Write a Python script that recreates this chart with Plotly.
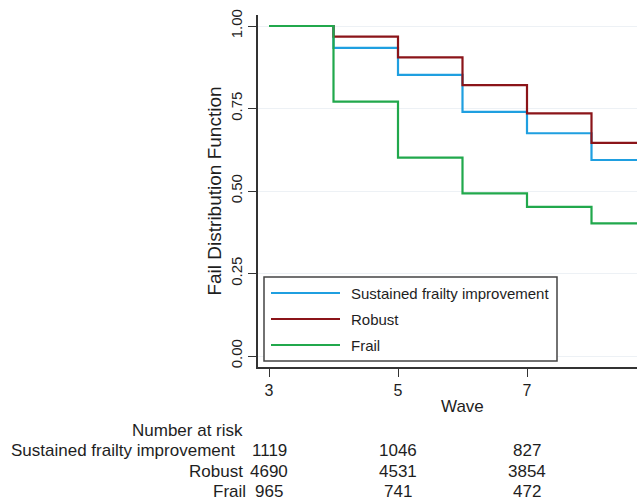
import plotly.graph_objects as go

# ---- data ----
waves = [3, 4, 5, 6, 7, 8, 9]
sustained = [1.0, 0.934, 0.852, 0.740, 0.675, 0.594, 0.594]
robust = [1.0, 0.968, 0.905, 0.821, 0.735, 0.646, 0.646]
frail = [1.0, 0.771, 0.601, 0.493, 0.452, 0.402, 0.402]
series_names = ["Sustained frailty improvement", "Robust", "Frail"]
colors = ["#1f9fe0", "#8b1419", "#21a84c"]

risk_waves = [3, 5, 7]
risk_sustained = [1119, 1046, 827]
risk_robust = [4690, 4531, 3854]
risk_frail = [965, 741, 472]

y_ticks = [0.0, 0.25, 0.5, 0.75, 1.0]
y_ticktext = ["0.00", "0.25", "0.50", "0.75", "1.00"]
x_ticks = [3, 5, 7]

# ---- layout geometry (pixels) ----
W, H = 637, 503
L, R, T, B = 258, 637, 15, 367
FONT = "Liberation Sans, Arial, sans-serif"
TXT = "#1e1e1e"
AX = "#333333"


def pxx(px):
    return (px - L) / (R - L)


def pxy(py):
    return (B - py) / (B - T)


fig = go.Figure()
for name, ys, col in zip(series_names, [sustained, robust, frail], colors):
    fig.add_trace(go.Scatter(x=waves, y=ys, mode="lines", name=name,
                             line=dict(color=col, width=2.2, shape="hv"),
                             showlegend=False, hoverinfo="skip"))

# custom legend box
shapes = [dict(type="rect", xref="paper", yref="paper",
               x0=pxx(264), x1=pxx(557), y0=pxy(361), y1=pxy(277),
               line=dict(color="#444444", width=1.5), fillcolor="white", layer="above")]
annotations = []
for i, (name, col) in enumerate(zip(series_names, colors)):
    yy = 293 + i * 26
    shapes.append(dict(type="line", xref="paper", yref="paper",
                       x0=pxx(271), x1=pxx(340), y0=pxy(yy), y1=pxy(yy),
                       line=dict(color=col, width=2.2), layer="above"))
    annotations.append(dict(xref="paper", yref="paper", x=pxx(349), y=pxy(yy),
                            text=name, showarrow=False, xanchor="left", yanchor="middle",
                            font=dict(family=FONT, size=15, color=TXT)))

# x-axis title
annotations.append(dict(xref="paper", yref="paper", x=pxx(462), y=pxy(406),
                        text="Wave", showarrow=False, xanchor="center", yanchor="middle",
                        font=dict(family=FONT, size=17, color=TXT)))

# number at risk table
annotations.append(dict(xref="paper", yref="paper", x=pxx(187.5), y=pxy(430),
                        text="Number at risk", showarrow=False, xanchor="center", yanchor="middle",
                        font=dict(family=FONT, size=17, color=TXT)))
row_y = [450, 471, 491]
row_label_right = [237, 245, 248]
for name, counts, yy, xr in zip(series_names, [risk_sustained, risk_robust, risk_frail], row_y, row_label_right):
    annotations.append(dict(xref="paper", yref="paper", x=pxx(xr), y=pxy(yy),
                            text=name, showarrow=False, xanchor="right", yanchor="middle",
                            font=dict(family=FONT, size=17, color=TXT)))
    for w, c in zip(risk_waves, counts):
        annotations.append(dict(xref="x", yref="paper", x=w, y=pxy(yy),
                                text=str(c), showarrow=False, xanchor="center", yanchor="middle",
                                font=dict(family=FONT, size=17, color=TXT)))

fig.update_layout(
    width=W, height=H,
    margin=dict(l=L, r=W - R, t=T, b=H - B, pad=0),
    paper_bgcolor="white", plot_bgcolor="white",
    font=dict(family=FONT, size=16, color=TXT),
    shapes=shapes, annotations=annotations,
    showlegend=False,
)
fig.update_xaxes(range=[3 - 11 / 64.5, 3 + 368 / 64.5], tickvals=x_ticks,
                 showline=True, linecolor=AX, linewidth=1.5, mirror=False,
                 ticks="outside", ticklen=8, tickcolor=AX, tickwidth=1.3,
                 showgrid=False, zeroline=False,
                 tickfont=dict(family=FONT, size=16, color=TXT))
fig.update_yaxes(range=[-11 / 330, 1 + 11 / 330], tickvals=y_ticks, ticktext=y_ticktext,
                 tickangle=-90,
                 showline=True, linecolor=AX, linewidth=1.5, mirror=False,
                 ticks="outside", ticklen=8, tickcolor=AX, tickwidth=1.3,
                 showgrid=True, gridcolor="#edf1f5", gridwidth=1, zeroline=False,
                 tickfont=dict(family=FONT, size=15, color=TXT),
                 title=dict(text="Fail Distribution Function", standoff=2,
                            font=dict(family=FONT, size=19, color=TXT)))

fig.write_html("out.html", config={"displayModeBar": False},
               post_script="document.body.style.margin='0';document.body.style.overflow='hidden';")
